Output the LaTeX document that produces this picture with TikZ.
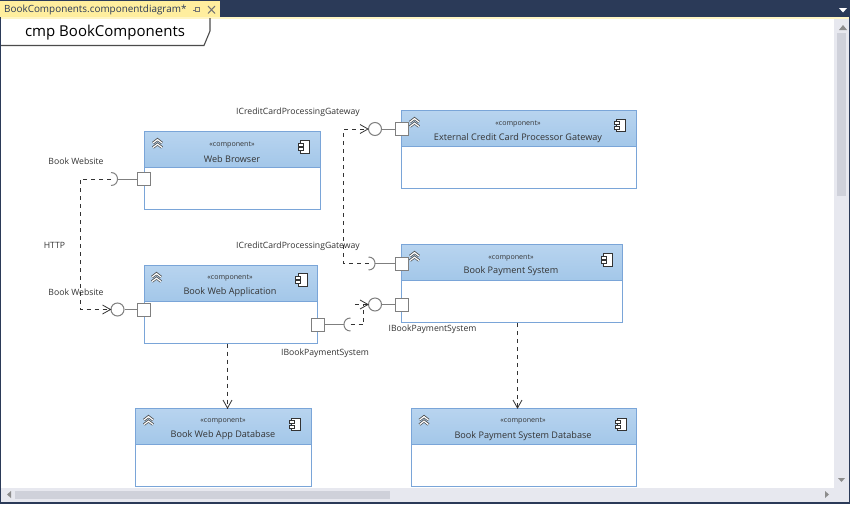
\documentclass[tikz,border=0pt]{standalone}
\usepackage{fontspec}
\setmainfont{Open Sans}
\usetikzlibrary{calc,arrows.meta}
\definecolor{navy}{HTML}{2B3A58}
\definecolor{tabyel}{HTML}{FFEE9E}
\definecolor{hdtop}{HTML}{B8D4EF}
\definecolor{hdbot}{HTML}{A3C7E9}
\definecolor{edge}{HTML}{7AA5D8}
\definecolor{scrollbg}{HTML}{E7E8EF}
\definecolor{thumb}{HTML}{CFD1DA}
\definecolor{txt}{HTML}{333333}
\definecolor{portgray}{HTML}{7F7F7F}
\tikzset{
  body/.style={draw=edge,line width=1pt,fill=white,anchor=north west,inner sep=0pt,minimum height=78pt},
  head/.style={draw=edge,line width=1pt,top color=hdtop,bottom color=hdbot,anchor=north west,inner sep=0pt,minimum height=36pt},
  stereo/.style={font=\fontsize{7.1}{8}\selectfont,text=txt,inner sep=0pt},
  title/.style={font=\fontsize{9.1}{10}\selectfont,text=txt,inner sep=0pt},
  lbl/.style={font=\fontsize{8.65}{10}\selectfont,text=txt,inner sep=0pt},
  port/.style={draw=portgray,line width=1pt,fill=white,minimum size=13pt,inner sep=0pt},
  ball/.style={draw=portgray,line width=1pt,fill=white,circle,minimum size=13pt,inner sep=0pt},
  stem/.style={draw=portgray,line width=1pt},
  dep/.style={draw=black!80,line width=.8pt,dash pattern=on 4pt off 4pt},
  tip/.style={draw=black!80,line width=.8pt},
}
\newcommand\compbox[8]{% name, x, y, width, title, text x, stereotype y, title y
  \node[body,minimum width=#4pt] (#1) at (#2,#3) {};
  \node[head,minimum width=#4pt] (#1h) at (#2,#3) {};
  \node[stereo] (#1s) at (#6,#7) {«component»};
  \node[title] (#1t) at (#6,#8) {#5};
}
\newcommand\chev[2]{%
  \foreach \dy in {0,4.5}{
    \draw[black!70,line width=2.7pt,line join=miter] (#1-4.5,#2+\dy-1) -- (#1,#2+\dy-4.5) -- (#1+4.5,#2+\dy-1);
  }
  \foreach \dy in {0,4.5}{
    \draw[white,line width=1.2pt] (#1-4.4,#2+\dy-1) -- (#1,#2+\dy-4.4) -- (#1+4.4,#2+\dy-1);
  }
}
\newcommand\cicon[2]{%
  \draw[black!80,line width=1pt,fill=white] (#1-3.5,#2-6) rectangle (#1+5.5,#2+6.5);
  \draw[black!80,line width=.9pt,fill=white] (#1-6,#2-3.5) rectangle (#1-1,#2-.5);
  \draw[black!80,line width=.9pt,fill=white] (#1-6,#2+1) rectangle (#1-1,#2+4);
}
\newcommand\sockR[1]{\draw[stem] ($(#1)+(0,-6.5)$) .. controls ($(#1)+(8.7,-6.5)$) and ($(#1)+(8.7,6.5)$) .. ($(#1)+(0,6.5)$);}
\newcommand\sockL[1]{\draw[stem] ($(#1)+(0,-6.5)$) .. controls ($(#1)+(-8.7,-6.5)$) and ($(#1)+(-8.7,6.5)$) .. ($(#1)+(0,6.5)$);}
\newcommand\opentip[2]{% tip end node, direction (1 right, 0 down)
  \ifnum#2=1
    \draw[tip] ($(#1)+(-8,-4.5)$) -- (#1) -- ($(#1)+(-8,4.5)$);
  \else
    \draw[tip] ($(#1)+(-4.5,-8)$) -- (#1) -- ($(#1)+(4.5,-8)$);
  \fi
}
\begin{document}
\begin{tikzpicture}[x=1pt,y=-1pt]
\useasboundingbox (0,0) rectangle (850,504);
% window chrome
\fill[white] (0,0) rectangle (850,504);
\fill[navy] (0,0) rectangle (850,17);
\fill[tabyel] (0,1) rectangle (220,17.5);
\fill[tabyel!60!white] (0,17) rectangle (850,18.5);
\fill[navy] (0,17) rectangle (1.2,504);
\fill[navy] (849,17) rectangle (850,504);
\fill[navy] (0,502) rectangle (850,504);
\node[anchor=west,inner sep=0pt,text=navy,font=\fontsize{9.9}{12}\selectfont] (tabname) at (4,10) {BookComponents.componentdiagram*};
% pin and close
\draw[black!55,line width=.8pt] (193,10) -- (195,10) (195,7.5) rectangle (199,11.5);
\draw[black!55,line width=1pt] (208,6) -- (215,13.5) (215,6) -- (208,13.5);
\fill[white] (839,8) -- (847,8) -- (843,12.5) -- cycle;
% scrollbars
\fill[scrollbg] (834,18.5) rectangle (849,502);
\fill[scrollbg] (1.2,488) rectangle (849,502);
\fill[thumb] (837,33) rectangle (846,196);
\fill[thumb] (15,491) rectangle (390,499);
\fill[black!45] (839,30) -- (847,30) -- (843,25) -- cycle;
\fill[black!45] (838,478) -- (845,478) -- (841.5,482) -- cycle;
\fill[black!45] (825,491) -- (825,498) -- (829,494.5) -- cycle;
\fill[black!45] (11,491) -- (11,498) -- (7,494.5) -- cycle;
% frame
\draw[black!70,line width=1.1pt] (1.2,45.5) -- (204,45.5) -- (210,31) -- (210,18);
\node[inner sep=0pt,text=black,font=\fontsize{15}{16}\selectfont] (frametitle) at (105,32.5) {cmp BookComponents};
% components
\compbox{wb}{143.5}{130.5}{176}{Web Browser}{232}{145}{159}
\compbox{wa}{143.5}{264.5}{173}{Book Web Application}{230}{278.5}{292}
\compbox{cc}{401}{110}{234.5}{External Credit Card Processor Gateway}{518}{124}{138}
\compbox{ps}{401}{244}{220.5}{Book Payment System}{511}{258}{271}
\compbox{wd}{135}{408}{176}{Book Web App Database}{223}{421}{435.5}
\compbox{pd}{411}{408}{225}{Book Payment System Database}{523}{421}{436}
\chev{157.5}{144}\chev{156.5}{278}\chev{414.5}{123}\chev{414.5}{257}\chev{148.5}{421}\chev{424}{421}
\cicon{304}{146.5}\cicon{301.5}{279.5}\cicon{620}{125}\cicon{607}{259.5}\cicon{295}{424}\cicon{621}{424}
% ports and interface ends
\node[port] (pwb) at (144,179) {};
\node[port] (pwa) at (144,309.5) {};
\node[port] (pcc) at (401.5,129) {};
\node[port] (pps) at (401.5,263.5) {};
\node[port] (ppi) at (401.5,304.5) {};
\node[port] (pwo) at (317.5,324.5) {};
\node[ball] (bwa) at (117.5,309.5) {};
\node[ball] (bcc) at (375,129) {};
\node[ball] (bps) at (375,304.5) {};
\coordinate (swb) at (111,179);
\coordinate (sps) at (368.5,263.5);
\coordinate (swo) at (350.5,324.5);
\draw[stem] (pwb.west) -- (117.5,179);
\draw[stem] (pwa.west) -- (bwa.east);
\draw[stem] (pcc.west) -- (bcc.east);
\draw[stem] (pps.west) -- (375,263.5);
\draw[stem] (ppi.west) -- (bps.east);
\draw[stem] (pwo.east) -- (344,324.5);
\sockR{swb}\sockR{sps}\sockL{swo}
% dependencies
\coordinate (elbowa) at (80,179);
\coordinate (elbowb) at (80,309.5);
\coordinate (elbowc) at (343.5,263.5);
\coordinate (elbowd) at (343.5,129);
\coordinate (elbowe) at (363.5,324.5);
\coordinate (elbowf) at (363.5,304.5);
\coordinate (stub) at (355,304.5);
\draw[dep] (swb) -- (elbowa) -- (elbowb) -- (bwa.west);
\draw[dep] (sps) -- (elbowc) -- (elbowd) -- (bcc.west);
\draw[dep] (swo) -- (elbowe) -- (elbowf);
\draw[dep] (stub) -- (bps.west);
\opentip{bwa.west}{1}\opentip{bcc.west}{1}\opentip{bps.west}{1}
\coordinate (ta) at (227.5,408);
\coordinate (tb) at (517.5,408);
\draw[dep] (wa.south -| ta) -- (ta);
\draw[dep] (ps.south -| tb) -- (tb);
\opentip{ta}{0}\opentip{tb}{0}
% labels
\node[lbl] (l1) at (298,112.5) {ICreditCardProcessingGateway};
\node[lbl] (l2) at (298,246) {ICreditCardProcessingGateway};
\node[lbl] (l3) at (76,161.5) {Book Website};
\node[lbl] (l4) at (76,292) {Book Website};
\node[lbl] (l5) at (54.5,245) {HTTP};
\node[lbl] (l6) at (432.5,329.5) {IBookPaymentSystem};
\node[lbl] (l7) at (325,353) {IBookPaymentSystem};
\end{tikzpicture}
\end{document}
